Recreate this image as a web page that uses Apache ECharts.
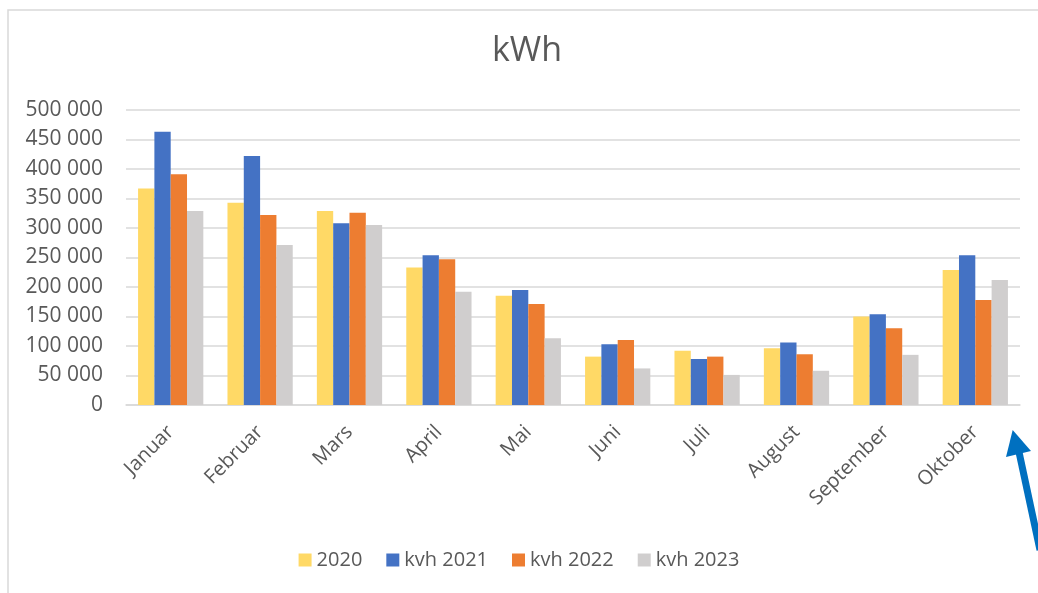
<!DOCTYPE html>
<html>
<head>
<meta charset="utf-8">
<script src="https://cdn.jsdelivr.net/npm/echarts@6/dist/echarts.min.js"></script>
<style>html,body{margin:0;padding:0;background:#fff}#c{width:1038px;height:593px}</style>
</head>
<body>
<div id="c"></div>
<script>
const categories = ['Januar','Februar','Mars','April','Mai','Juni','Juli','August','September','Oktober'];
const s2020 = [367000,343000,329000,233000,185000,82000,92000,96000,150000,229000];
const s2021 = [463000,422000,308000,254000,195000,103000,78000,106000,154000,254000];
const s2022 = [391000,322000,326000,247000,171000,110000,82000,86000,130000,178000];
const s2023 = [329000,271000,305000,192000,113000,62000,51000,58000,85000,212000];
const seriesNames = ['2020','kvh 2021','kvh 2022','kvh 2023'];
const colors = ['#FFD966','#4472C4','#ED7D31','#D0CECE'];
const yMax = 500000, yStep = 50000;

const fmt = v => String(v).replace(/\B(?=(\d{3})+(?!\d))/g, ' ');
const font = '"Open Sans", "Noto Sans", sans-serif';
const chart = echarts.init(document.getElementById('c'));
const data = [s2020, s2021, s2022, s2023];
chart.setOption({
  animation: false,
  title: { text: 'kWh', left: 487, top: 29, textStyle: { fontFamily: font, fontSize: 34, fontWeight: 'normal', color: '#595959' } },
  legend: {
    bottom: 18, left: 'center', itemWidth: 13, itemHeight: 13, itemGap: 24,
    icon: 'rect',
    textStyle: { fontFamily: font, fontSize: 20, color: '#595959' },
    data: seriesNames
  },
  grid: { left: 126, right: 18, top: 110, bottom: 188 },
  xAxis: {
    type: 'category', data: categories,
    axisLine: { lineStyle: { color: '#D9D9D9', width: 1.5 } },
    axisTick: { show: false },
    axisLabel: { rotate: 45, fontFamily: font, fontSize: 20, color: '#595959', margin: 24 }
  },
  yAxis: {
    type: 'value', min: 0, max: yMax, interval: yStep,
    axisLine: { show: false }, axisTick: { show: false },
    splitLine: { lineStyle: { color: '#D9D9D9', width: 1.5 } },
    axisLabel: { formatter: fmt, fontFamily: font, fontSize: 21, color: '#595959', margin: 23 }
  },
  series: seriesNames.map((n, i) => ({
    name: n, type: 'bar', data: data[i], barGap: '0%', barCategoryGap: '27%',
    itemStyle: { color: colors[i] }
  })),
  graphic: [
    { type: 'rect', shape: { x: 8, y: 10, width: 1100, height: 640 }, style: { fill: 'none', stroke: '#D9D9D9', lineWidth: 1.5 }, z: -1 },
    { type: 'line', shape: { x1: 1040, y1: 550, x2: 1019, y2: 452 }, style: { stroke: '#0070C0', lineWidth: 7 } },
    { type: 'polygon', shape: { points: [[1012.7, 430], [1006, 457], [1031, 451]] }, style: { fill: '#0070C0' } }
  ]
});
</script>
</body>
</html>
